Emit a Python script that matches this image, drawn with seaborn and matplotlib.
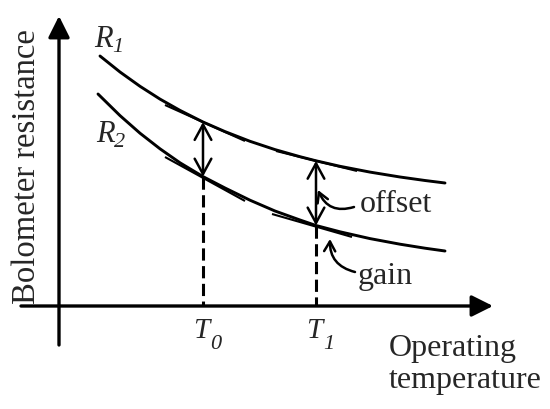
import matplotlib
matplotlib.use("Agg")
import matplotlib.pyplot as plt
import seaborn as sns
import pandas as pd

# schematic, in picture pixels (x right, y down)
r1_x = [100, 120, 140, 160, 180, 203, 225, 250, 275, 300, 316, 340, 370, 400, 425, 445]
r1_y = [57, 73, 87.3, 100.1, 111.4, 123, 132.6, 142.3, 150.6, 157.7, 161.8, 167.3, 173.1, 178, 181.5, 184]
r2_x = [98, 120, 140, 160, 180, 203, 225, 250, 275, 300, 316, 340, 370, 400, 425, 445]
r2_y = [95, 116.6, 134.2, 149.8, 163.8, 177.6, 189, 201.2, 212, 221, 226.5, 232.8, 239.6, 245.2, 249.2, 252]

# short tangent pieces drawn over the curves near T0 and T1
tangents = [
    [(165, 106), (245, 142)],
    [(276, 152), (357, 172)],
    [(165, 158), (245, 202)],
    [(272, 215), (352, 238)],
]

t_pos = [203, 316]
t_subs = ["0", "1"]
t_top = [177.6, 226.5]      # where the dashed line meets R2
r1_at_t = [123, 161.8]      # where the double arrow meets R1

x_axis_y = 307
y_axis_x = 59

sns.set_theme(style="white")
plt.rcParams["font.family"] = ["Liberation Serif", "DejaVu Serif"]

fig = plt.figure(figsize=(5.5, 4.1), dpi=100)
ax = fig.add_axes([0, 0, 1, 1])
ax.set_xlim(0, 550)
ax.set_ylim(410, 0)
ax.axis("off")

curves = pd.concat([
    pd.DataFrame({"x": r1_x, "y": r1_y, "curve": "R1"}),
    pd.DataFrame({"x": r2_x, "y": r2_y, "curve": "R2"}),
])
sns.lineplot(data=curves, x="x", y="y", units="curve", estimator=None,
             sort=False, color="black", linewidth=2.1, ax=ax, legend=False)

for (xa, ya), (xb, yb) in tangents:
    ax.plot([xa, xb], [ya, yb], color="black", linewidth=1.5,
            solid_capstyle="butt")

# axes with filled arrow heads
ax.annotate("", xy=(y_axis_x, 17), xytext=(y_axis_x, 346),
            arrowprops=dict(arrowstyle="-|>,head_length=1.3,head_width=0.65",
                            mutation_scale=10, color="black", lw=2.4,
                            shrinkA=0, shrinkB=0))
ax.annotate("", xy=(493, x_axis_y), xytext=(21, x_axis_y),
            arrowprops=dict(arrowstyle="-|>,head_length=1.3,head_width=0.65",
                            mutation_scale=10, color="black", lw=2.4,
                            shrinkA=0, shrinkB=0))

for xp, ytop, ybot, sub in zip(t_pos, r1_at_t, t_top, t_subs):
    ax.plot([xp, xp], [ybot, x_axis_y], color="black", linewidth=2.2,
            linestyle=(0, (4, 1.8)))
    ax.annotate("", xy=(xp, ytop), xytext=(xp, ybot),
                arrowprops=dict(arrowstyle="<->,head_length=1.1,head_width=0.6",
                                mutation_scale=10, color="black", lw=1.8,
                                shrinkA=0, shrinkB=0))
    ax.text(xp - 10, 338, "T", fontsize=21, style="italic", va="baseline")
    ax.text(xp + 7, 349, sub, fontsize=16, style="italic", va="baseline")

# curved pointers
ax.annotate("", xy=(318, 191), xytext=(354, 208),
            arrowprops=dict(arrowstyle="->,head_length=0.7,head_width=0.4",
                            mutation_scale=10, color="black", lw=1.8,
                            shrinkA=0, shrinkB=0,
                            connectionstyle="arc3,rad=-0.45"))
ax.annotate("", xy=(330, 240), xytext=(355, 273),
            arrowprops=dict(arrowstyle="->,head_length=0.7,head_width=0.4",
                            mutation_scale=10, color="black", lw=1.8,
                            shrinkA=0, shrinkB=0,
                            connectionstyle="arc3,rad=-0.4"))

ax.text(360, 212, "offset", fontsize=23, va="baseline")
ax.text(358, 284, "gain", fontsize=23, va="baseline")
ax.text(94, 47, "R", fontsize=22, style="italic", va="baseline")
ax.text(112, 52, "1", fontsize=16, style="italic", va="baseline")
ax.text(96, 142, "R", fontsize=22, style="italic", va="baseline")
ax.text(114, 147, "2", fontsize=16, style="italic", va="baseline")
ax.text(389, 388, "Operating\ntemperature", fontsize=23, va="baseline",
        ha="left", linespacing=1.12)
ax.text(27, 167, "Bolometer resistance", fontsize=23.5, rotation=90,
        ha="center", va="center")

fig.savefig("out.png", dpi=100)
